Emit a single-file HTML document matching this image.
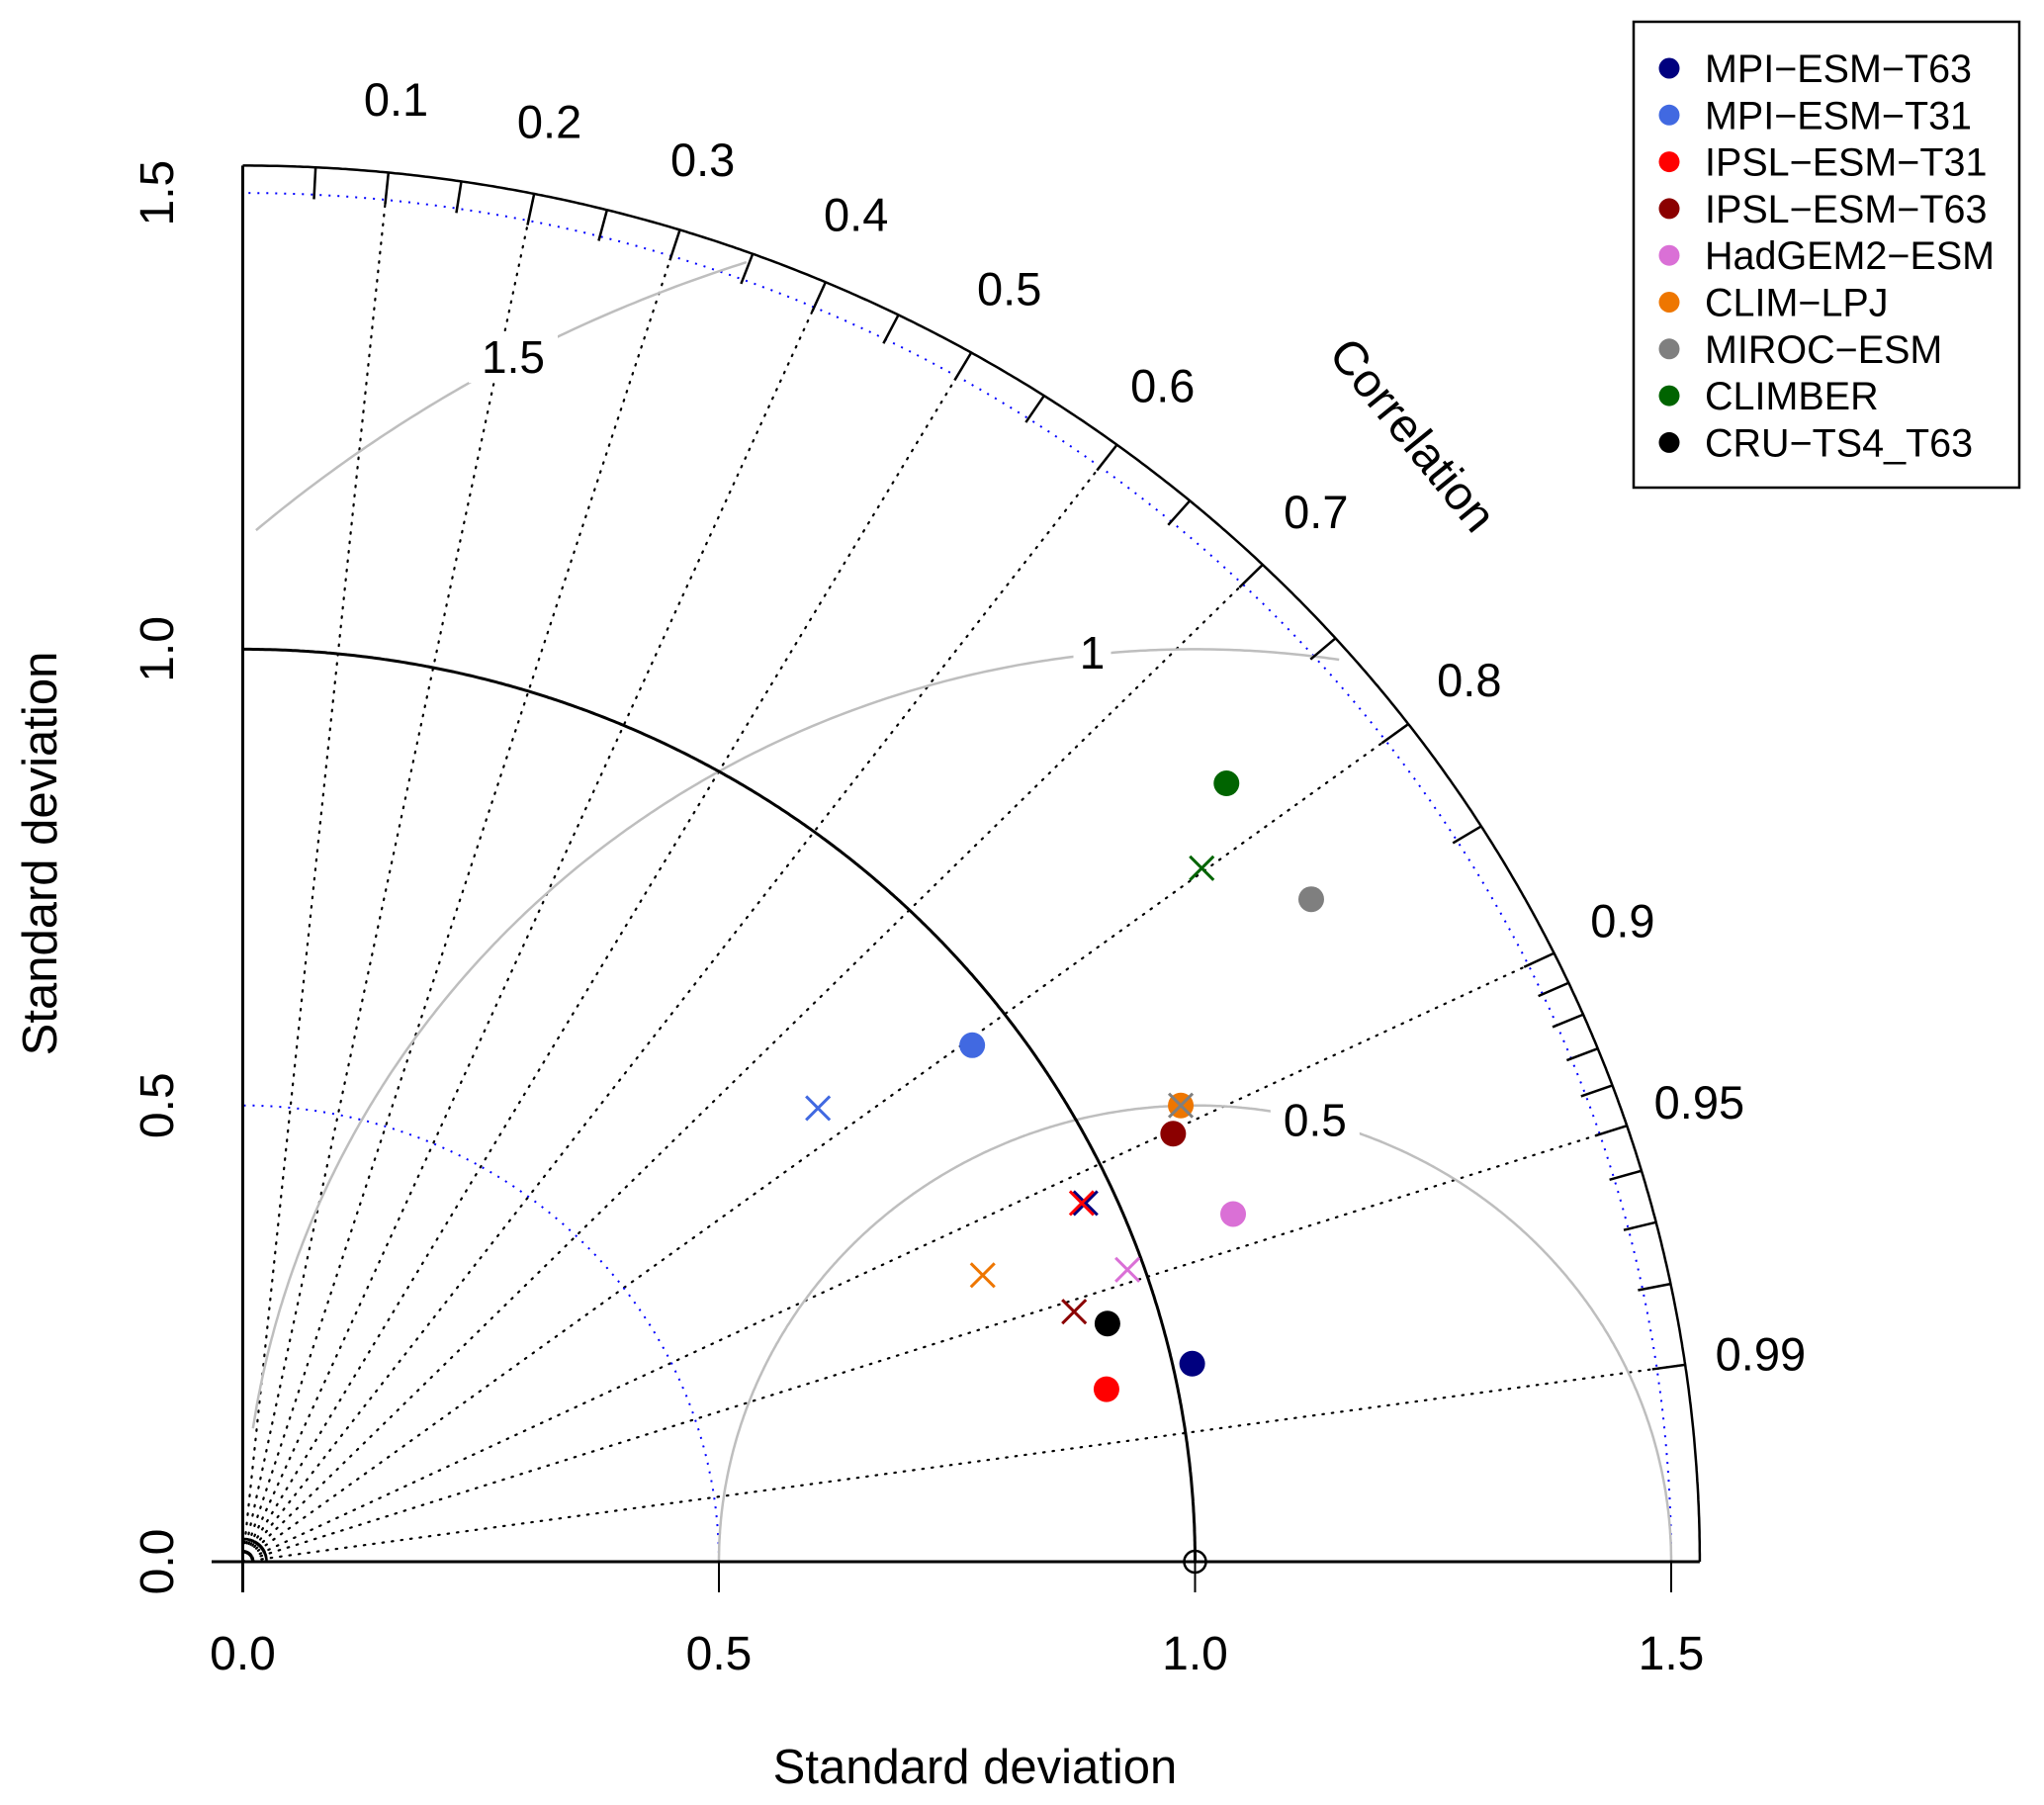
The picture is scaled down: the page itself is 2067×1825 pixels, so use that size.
<!DOCTYPE html>
<html><head><meta charset="utf-8"><style>
html,body{margin:0;padding:0;background:#fff;}
svg{display:block;font-family:"Liberation Sans",Arial,sans-serif;}
</style></head><body>
<svg id="chart" width="2067" height="1825" viewBox="0 0 2067 1825" xmlns="http://www.w3.org/2000/svg">
<g id="grid"></g>
<g id="marks"></g>
<g id="legend"></g>
</svg>
<script>
// ---- data ----
const models = ["MPI-ESM-T63","MPI-ESM-T31","IPSL-ESM-T31","IPSL-ESM-T63","HadGEM2-ESM","CLIM-LPJ","MIROC-ESM","CLIMBER","CRU-TS4_T63"];
const colors = ["#00007f","#4169e1","#ff0000","#8b0000","#da70d6","#ee7600","#7f7f7f","#006400","#000000"];
// filled circle positions (x = sd*cor, y = sd*sin)
const dotX = [0.997,0.766,0.907,0.977,1.040,0.985,1.122,1.033,0.908];
const dotY = [0.217,0.566,0.189,0.469,0.381,0.500,0.726,0.853,0.261];
// cross markers (null = none)
const crossX = [0.885,0.604,0.881,0.873,0.929,0.777,0.985,1.007,null];
const crossY = [0.393,0.497,0.393,0.274,0.320,0.314,0.500,0.760,null];
const corrLines = [0.1,0.2,0.3,0.4,0.5,0.6,0.7,0.8,0.9,0.95,0.99];
const corrLabels = ["0.1","0.2","0.3","0.4","0.5","0.6","0.7","0.8","0.9","0.95","0.99"];
const sdTicks = [0,0.5,1.0,1.5];
const sdTickLabels = ["0.0","0.5","1.0","1.5"];
const rmsRadii = [0.5,1,1.5];
const rmsLabels = ["0.5","1","1.5"];

// ---- scales ----
const OX=245.5, OY=1579, SX=963, SY=922.6, RMAX=1.53;
const fx=x=>OX+x*SX, fy=y=>OY-y*SY;
const NS="http://www.w3.org/2000/svg";
function mk(tag,attrs,parent){const e=document.createElementNS(NS,tag);for(const k in attrs)e.setAttribute(k,attrs[k]);parent.appendChild(e);return e;}
const grid=document.getElementById('grid'), marks=document.getElementById('marks'), legend=document.getElementById('legend');

function arcPath(cx,cy,r,t0,t1,filter){
  let d="",pen=false;
  for(let i=0;i<=600;i++){
    const t=t0+(t1-t0)*i/600, x=cx+r*Math.cos(t), y=cy+r*Math.sin(t);
    if(filter && !filter(x,y)){pen=false;continue;}
    d+=(pen?"L":"M")+fx(x).toFixed(1)+","+fy(y).toFixed(1);pen=true;
  }
  return d;
}
// correlation dotted lines
corrLines.forEach((c,i)=>{
  const a=Math.acos(c);
  const l=mk('line',{x1:fx(0),y1:fy(0),x2:fx(RMAX*Math.cos(a)),y2:fy(RMAX*Math.sin(a)),stroke:'#000','stroke-width':2.2,'stroke-dasharray':'1.5 8','stroke-linecap':'round'},grid);
  
  
});
// blue dotted sd arcs
[0.5,1.5].forEach(r=>{
  const p=mk('path',{d:arcPath(0,0,r,0,Math.PI/2),fill:'none',stroke:'#0000ff','stroke-width':2,'stroke-dasharray':'2 7'},grid);
  
  
});
// rms grey arcs
rmsRadii.forEach((r,i)=>{
  const p=mk('path',{d:arcPath(1,0,r,0,Math.PI,(x,y)=>x>=0.01&&Math.hypot(x,y)<=1.52),fill:'none',stroke:'#bebebe','stroke-width':2.5},grid);
  
  
});
const rmsLabPos=[[1.126,0.484],[0.892,0.996],[0.284,1.32]];
rmsLabels.forEach((t,i)=>{
  const x=fx(rmsLabPos[i][0]), y=fy(rmsLabPos[i][1]);
  mk('rect',{x:x-(t.length*13+6),y:y-26,width:t.length*26+12,height:52,fill:'#fff'},grid);
  const tx=mk('text',{x:x,y:y+16,'font-size':46,'text-anchor':'middle',fill:'#000'},grid);
  tx.textContent=t;
  
  
});
// reference sd=1 arc (black)
mk('path',{d:arcPath(0,0,1,0,Math.PI/2),fill:'none',stroke:'#000','stroke-width':3},grid);
mk('path',{d:arcPath(0,0,0.025,0,Math.PI/2),fill:'none',stroke:'#000','stroke-width':2.5},grid);
// outer arc + axes
const outer=mk('path',{d:arcPath(0,0,RMAX,0,Math.PI/2),fill:'none',stroke:'#000','stroke-width':2.5},grid);


mk('line',{x1:fx(0),y1:fy(RMAX),x2:fx(0),y2:OY+31,stroke:'#000','stroke-width':3},grid);
mk('line',{x1:214,y1:OY,x2:fx(RMAX),y2:OY,stroke:'#000','stroke-width':3},grid);
// outer ticks
const tickC=[];for(let c=0.05;c<0.901;c+=0.05)tickC.push(c);for(let c=0.91;c<0.995;c+=0.01)tickC.push(c);
tickC.forEach(c=>{const a=Math.acos(c);
  mk('line',{x1:fx(RMAX*Math.cos(a)),y1:fy(RMAX*Math.sin(a)),x2:fx((RMAX-0.035)*Math.cos(a)),y2:fy((RMAX-0.035)*Math.sin(a)),stroke:'#000','stroke-width':2.5},grid);});
// corr labels
corrLabels.forEach((t,i)=>{const a=Math.acos(corrLines[i]);const r=1.61;
  const tx=mk('text',{x:fx(r*Math.cos(a)),y:fy(r*Math.sin(a))+16,'font-size':47,'text-anchor':'middle'},grid);
  tx.textContent=t;
  
  
});
const ct=mk('text',{x:1416,y:450,'font-size':48,'text-anchor':'middle',transform:'rotate(51 1416 450)'},grid);
ct.textContent='Correlation';


// sd ticks/labels
sdTicks.forEach((v,i)=>{
  mk('line',{x1:fx(v),y1:OY,x2:fx(v),y2:OY+31,stroke:'#000','stroke-width':2},grid);
  const tx=mk('text',{x:fx(v),y:1688,'font-size':48,'text-anchor':'middle'},grid);
  tx.textContent=sdTickLabels[i];
  
  
  const ty=mk('text',{x:175,y:fy(v),'font-size':48,'text-anchor':'middle',transform:`rotate(-90 175 ${fy(v)})`},grid);
  ty.textContent=sdTickLabels[i];
  
  
});
const xt=mk('text',{x:986,y:1803,'font-size':49,'text-anchor':'middle'},grid);xt.textContent='Standard deviation';


const yt=mk('text',{x:57,y:863,'font-size':49,'text-anchor':'middle',transform:'rotate(-90 57 863)'},grid);yt.textContent='Standard deviation';


mk('circle',{cx:fx(1),cy:fy(0),r:11,fill:'none',stroke:'#000','stroke-width':2.5},grid);
// markers
models.forEach((m,i)=>{
  const c=mk('circle',{cx:fx(dotX[i]),cy:fy(dotY[i]),r:13,fill:colors[i]},marks);
  
  
});
models.forEach((m,i)=>{
  if(crossX[i]===null)return;
  const x=fx(crossX[i]),y=fy(crossY[i]),h=12;
  const g=mk('path',{d:`M${x-h},${y-h}L${x+h},${y+h}M${x-h},${y+h}L${x+h},${y-h}`,stroke:colors[i],'stroke-width':3,fill:'none'},marks);
  
  
});
// legend
mk('rect',{x:1652,y:22,width:390,height:471,fill:'#fff',stroke:'#000','stroke-width':2.5},legend);
models.forEach((m,i)=>{
  const y=69+i*47.3;
  mk('circle',{cx:1688,cy:y,r:10.5,fill:colors[i]},legend);
  const t=mk('text',{x:1724,y:y+14,'font-size':39.5},legend);
  t.textContent=m.replace(/-/g,'\u2212');
  
  
});
</script>
</body></html>
